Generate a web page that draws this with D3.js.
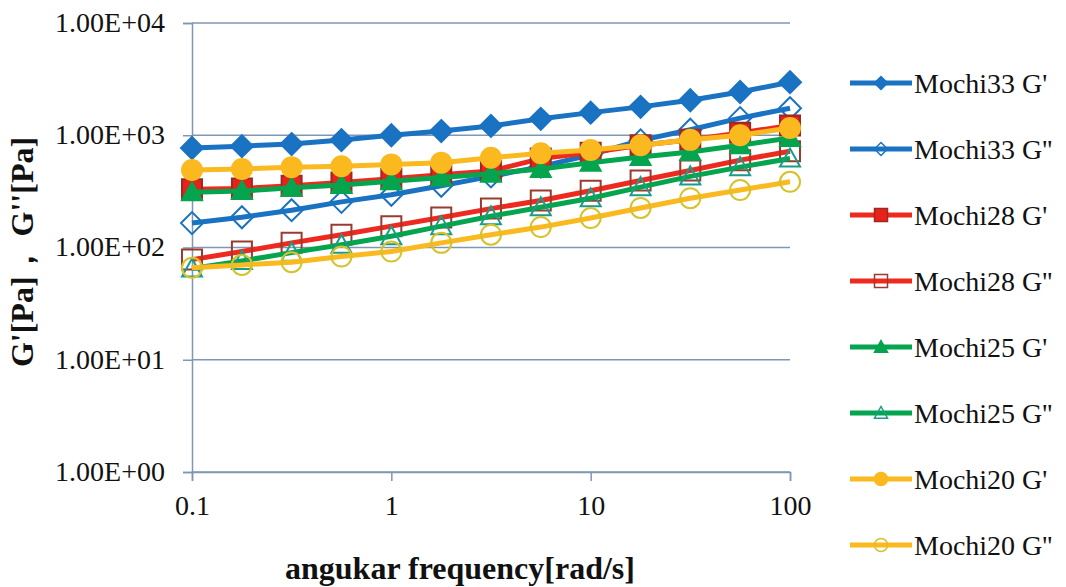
<!DOCTYPE html>
<html>
<head>
<meta charset="utf-8">
<script src="https://cdn.jsdelivr.net/npm/d3@7"></script>
<style>
  body { margin: 0; background: #fff; }
  svg text { font-family: "Liberation Serif", Tinos, "Times New Roman", "DejaVu Serif", serif; fill: #111; }
  .tick text { font-size: 28px; }
  .axis-title { font-size: 32px; font-weight: bold; }
  .legend text { font-size: 28px; }
</style>
</head>
<body>
<svg width="1066" height="587"></svg>
<script>
const freq = [0.1, 0.178, 0.316, 0.562, 1, 1.78, 3.16, 5.62, 10, 17.8, 31.6, 56.2, 100];

const mochi33G1 = [770, 800, 835, 905, 1000, 1090, 1210, 1400, 1590, 1790, 2050, 2430, 2970];
const mochi33G2 = [165, 186, 215, 255, 295, 355, 430, 525, 670, 900, 1120, 1420, 1740];
const mochi28G1 = [330, 335, 355, 380, 410, 445, 480, 620, 700, 815, 910, 1050, 1220];
const mochi28G2 = [78, 92, 110, 130, 155, 185, 222, 262, 320, 395, 485, 600, 720];
const mochi25G1 = [310, 318, 340, 360, 390, 420, 455, 500, 570, 640, 710, 815, 945];
const mochi25G2 = [65, 76, 90, 106, 126, 155, 190, 228, 275, 345, 430, 520, 620];
const mochi20G1 = [490, 500, 520, 530, 550, 570, 630, 690, 740, 815, 910, 1000, 1160];
const mochi20G2 = [66, 70, 74, 83, 92, 110, 130, 152, 183, 225, 275, 325, 385];

const seriesNames = ["Mochi33 G'", "Mochi33 G''", "Mochi28 G'", "Mochi28 G''",
                     "Mochi25 G'", "Mochi25 G''", "Mochi20 G'", "Mochi20 G''"];
const seriesValues = [mochi33G1, mochi33G2, mochi28G1, mochi28G2,
                      mochi25G1, mochi25G2, mochi20G1, mochi20G2];

const yTicks = [1, 10, 100, 1000, 10000];
const xTicks = [0.1, 1, 10, 100];

// look of each series: line colour, marker shape, marker fill / outline
const styles = [
  {color: "#1a72c2", shape: "diamond", fill: "#1a72c2", stroke: "#1a72c2"},
  {color: "#1a72c2", shape: "diamond", fill: "none", stroke: "#1a72c2"},
  {color: "#ee2a1f", shape: "square", fill: "#e8221a", stroke: "#9a2a22"},
  {color: "#ee2a1f", shape: "square", fill: "none", stroke: "#9a3a30"},
  {color: "#05a44e", shape: "triangle", fill: "#05a44e", stroke: "#05a44e"},
  {color: "#05a44e", shape: "triangle", fill: "none", stroke: "#1a9c8a"},
  {color: "#fbb920", shape: "circle", fill: "#fbb920", stroke: "#fbb920"},
  {color: "#fbb920", shape: "circle", fill: "none", stroke: "#d6c22a"}
];

const svg = d3.select("svg");
const plotLeft = 192, plotRight = 790, plotTop = 23, plotBottom = 472;

const x = d3.scaleLog().domain([0.1, 100]).range([plotLeft, plotRight]);
const y = d3.scaleLog().domain([1, 10000]).range([plotBottom, plotTop]);

const gridColor = "#7f97b2";

function expLabel(d) {
  const e = Math.round(Math.log10(d));
  return "1.00E+" + String(e).padStart(2, "0");
}

function markerPath(shape, s) {
  const h = s / 2;
  if (shape === "diamond") return `M0,${-h}L${h},0L0,${h}L${-h},0Z`;
  if (shape === "square") return `M${-h},${-h}H${h}V${h}H${-h}Z`;
  if (shape === "triangle") return `M0,${-h}L${h},${h * 0.8}L${-h},${h * 0.8}Z`;
  return `M${h},0A${h},${h} 0 1,1 ${-h},0A${h},${h} 0 1,1 ${h},0Z`;
}

// gridlines
svg.append("g")
  .selectAll("line")
  .data(yTicks)
  .enter().append("line")
    .attr("x1", plotLeft).attr("x2", plotRight)
    .attr("y1", d => y(d)).attr("y2", d => y(d))
    .attr("stroke", gridColor)
    .attr("stroke-width", 1.5);

// y axis
const yAxis = svg.append("g")
  .attr("transform", `translate(${plotLeft},0)`)
  .call(d3.axisLeft(y).tickValues(yTicks).tickFormat(expLabel).tickSize(9).tickPadding(18));
yAxis.attr("font-family", null).attr("font-size", null);
yAxis.select(".domain").attr("stroke", gridColor).attr("stroke-width", 1.5);
yAxis.selectAll(".tick line").attr("stroke", gridColor).attr("stroke-width", 1.5);
yAxis.selectAll(".tick text").attr("dy", "0.3em");

// x axis
const xAxis = svg.append("g")
  .attr("transform", `translate(0,${plotBottom})`)
  .call(d3.axisBottom(x).tickValues(xTicks).tickFormat(d => String(d)).tickSize(9).tickPadding(14));
xAxis.attr("font-family", null).attr("font-size", null);
xAxis.select(".domain").attr("stroke", gridColor).attr("stroke-width", 1.5);
xAxis.selectAll(".tick line").attr("stroke", gridColor).attr("stroke-width", 1.5);

// series
const line = d3.line().x(d => x(d[0])).y(d => y(d[1]));
seriesValues.forEach(function(vals, i) {
  const st = styles[i];
  const pts = freq.map((f, j) => [f, vals[j]]);
  const g = svg.append("g");
  g.append("path")
    .datum(pts)
    .attr("d", line)
    .attr("fill", "none")
    .attr("stroke", st.color)
    .attr("stroke-width", 5)
    .attr("stroke-linejoin", "round");
  g.selectAll("path.mk")
    .data(pts)
    .enter().append("path")
      .attr("class", "mk")
      .attr("transform", d => `translate(${x(d[0])},${y(d[1])})`)
      .attr("d", markerPath(st.shape, st.shape === "diamond" ? 22 : 20))
      .attr("fill", st.fill)
      .attr("stroke", st.stroke)
      .attr("stroke-width", 2);
});

// axis titles
svg.append("text")
  .attr("class", "axis-title")
  .attr("x", 460)
  .attr("y", 579)
  .attr("text-anchor", "middle")
  .text("angukar frequency[rad/s]");

svg.append("text")
  .attr("class", "axis-title")
  .attr("transform", "translate(33,252) rotate(-90)")
  .attr("text-anchor", "middle")
  .text("G'[Pa]，  G''[Pa]");

// legend
const legend = svg.append("g").attr("class", "legend");
seriesNames.forEach(function(name, i) {
  const st = styles[i];
  const ly = 83 + i * 66;
  legend.append("line")
    .attr("x1", 850).attr("x2", 912)
    .attr("y1", ly).attr("y2", ly)
    .attr("stroke", st.color)
    .attr("stroke-width", 5);
  legend.append("path")
    .attr("transform", `translate(881,${ly})`)
    .attr("d", markerPath(st.shape, 13))
    .attr("fill", st.fill)
    .attr("stroke", st.stroke)
    .attr("stroke-width", 1.5);
  legend.append("text")
    .attr("x", 914)
    .attr("y", ly)
    .attr("dy", "0.35em")
    .text(name);
});
</script>
</body>
</html>
